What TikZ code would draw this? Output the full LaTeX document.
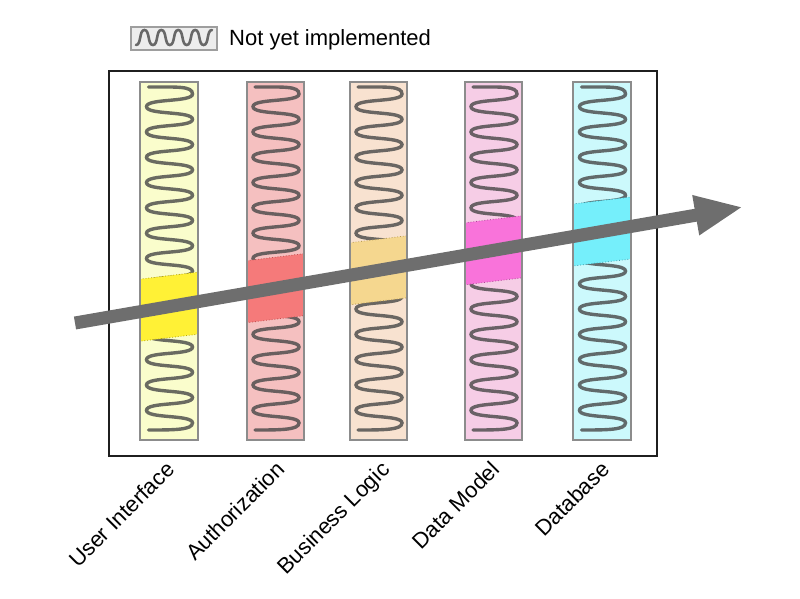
\documentclass[tikz,border=0pt]{standalone}
\usepackage{fontspec}
\setmainfont{Liberation Sans}
\usetikzlibrary{arrows.meta}
\definecolor{sOne}{HTML}{FAFDCC}\definecolor{bOne}{HTML}{FFF136}\definecolor{dOne}{HTML}{B8A800}
\definecolor{sTwo}{HTML}{F5C0C0}\definecolor{bTwo}{HTML}{F57A7A}\definecolor{dTwo}{HTML}{C05050}
\definecolor{sThr}{HTML}{F8E2D0}\definecolor{bThr}{HTML}{F5D78F}\definecolor{dThr}{HTML}{B89A50}
\definecolor{sFou}{HTML}{F6CDE6}\definecolor{bFou}{HTML}{F973DA}\definecolor{dFou}{HTML}{B04898}
\definecolor{sFiv}{HTML}{CCF9FC}\definecolor{bFiv}{HTML}{75EFFB}\definecolor{dFiv}{HTML}{3A9AA8}
\definecolor{arrowgray}{HTML}{6E6E6E}
\definecolor{stripedge}{HTML}{8C8C8C}
\newcommand\coilat[1]{%
  \draw[coilline, xshift=#1pt] (-21,87) .. controls (8,87) and (23,86) .. (23,94)
    \foreach \k [evaluate=\k as \yl using 106.65+25.3*\k, evaluate=\k as \yr using 119.3+25.3*\k] in {0,...,12}
    { .. controls +(0,8.5) and +(0,-8.5) .. (-23,\yl) .. controls +(0,8.5) and +(0,-8.5) .. (23,\yr) }
    .. controls +(0,7) and (5,430) .. (-21,430);
}
\newcommand\bandat[4]{%
  \pgfmathsetmacro\ya{323-0.1737*((#1+#2)/2-75)}%
  \fill[#3] (#1,{\ya-27.5}) -- (#2,{\ya-34.5}) -- (#2,{\ya+27.5}) -- (#1,{\ya+34.5}) -- cycle;
  \draw[bandedge, #4] (#1,{\ya-27.5}) -- (#2,{\ya-34.5}) -- (#2,{\ya+27.5}) -- (#1,{\ya+34.5}) -- cycle;
}
\begin{document}
\begin{tikzpicture}[x=1pt,y=-1pt,
  coilline/.style={line width=3.4pt, draw=black!72, draw opacity=0.8, line cap=round},
  stripbox/.style={draw=stripedge, line width=2pt},
  bandedge/.style={line width=0.8pt, dotted},
  lbl/.style={rotate=45, anchor=base east, inner sep=0pt, font=\fontsize{22}{26}\selectfont},
  framebox/.style={draw=black!88, line width=2.2pt}]
\useasboundingbox (0,0) rectangle (800,599);
% legend
\draw[fill=black!7, draw=black!38, line width=1.5pt] (131,27) rectangle (217,50);
\draw[coilline, line width=2.6pt] (136,45)
  \foreach \k [evaluate=\k as \xa using 144.45+16.9*\k, evaluate=\k as \xb using 152.9+16.9*\k] in {0,...,3}
  { .. controls +(5.5,0) and +(-5.5,0) .. (\xa,30) .. controls +(5.5,0) and +(-5.5,0) .. (\xb,45) }
  .. controls +(5.5,0) and +(-5.5,0) .. (212,30);
\node[anchor=base west, inner sep=0pt, font=\fontsize{22}{26}\selectfont] (legtext) at (229,46) {Not yet implemented};
% frame
\draw[framebox] (109,71) rectangle (657,456);
% strips
\fill[sOne] (140,82) rectangle (198,440);
\fill[sTwo] (247,82) rectangle (304,440);
\fill[sThr] (350,82) rectangle (407,440);
\fill[sFou] (465,82) rectangle (522,440);
\fill[sFiv] (573,82) rectangle (631,440);
\coilat{169.5}
\coilat{276}
\coilat{379}
\coilat{494}
\coilat{602.5}
\bandat{140}{198}{bOne}{dOne}
\bandat{247}{304}{bTwo}{dTwo}
\bandat{350}{407}{bThr}{dThr}
\bandat{465}{522}{bFou}{dFou}
\bandat{573}{631}{bFiv}{dFiv}
\draw[stripbox] (140,82) rectangle (198,440);
\draw[stripbox] (247,82) rectangle (304,440);
\draw[stripbox] (350,82) rectangle (407,440);
\draw[stripbox] (465,82) rectangle (522,440);
\draw[stripbox] (573,82) rectangle (631,440);
% arrow
\coordinate (tail) at (75,323);
\coordinate (tip) at (743,207);
\draw[draw=arrowgray, line width=13pt, -{Triangle[width=37pt,length=48pt]}] (tail) -- (tip);
% labels
\node[lbl] (ui) at (176,471) {User Interface};
\node[lbl] (auth) at (286,471) {Authorization};
\node[lbl] (bl) at (391,471) {Business Logic};
\node[lbl] (dm) at (501,471) {Data Model};
\node[lbl] (db) at (611,471) {Database};
\end{tikzpicture}
\end{document}
